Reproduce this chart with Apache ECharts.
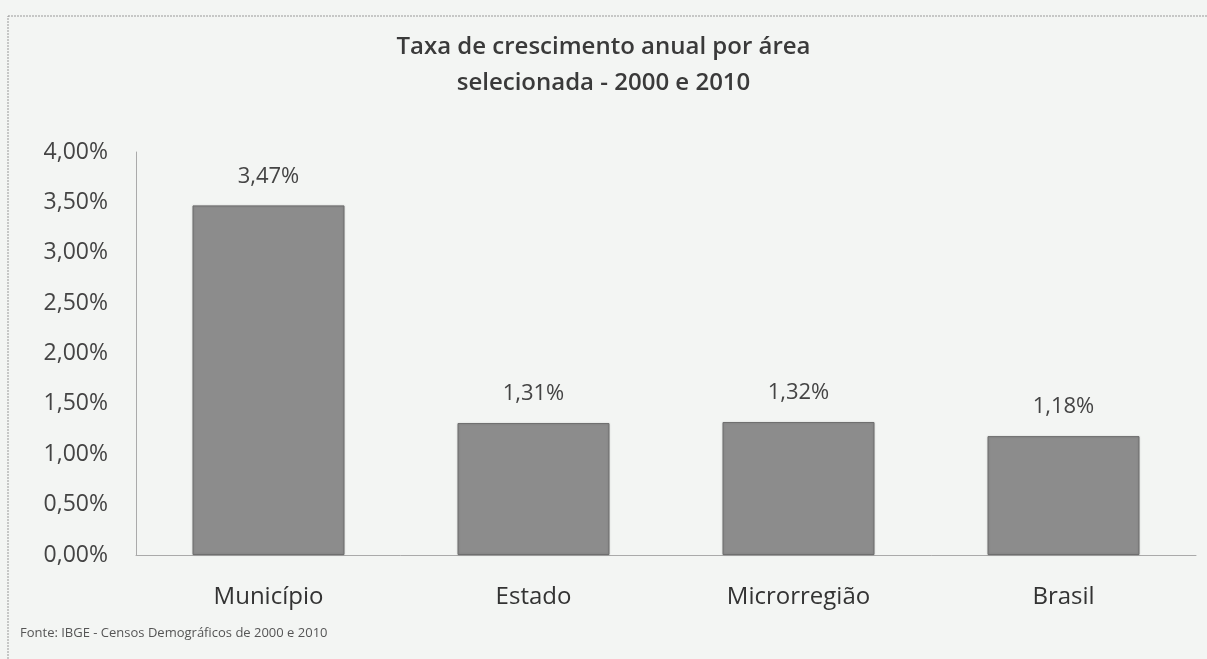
<!DOCTYPE html>
<html>
<head>
<meta charset="utf-8">
<script src="https://cdn.jsdelivr.net/npm/echarts@6/dist/echarts.min.js"></script>
<style>
  html, body { margin: 0; padding: 0; background: #f3f5f3; }
  #chart { width: 1207px; height: 659px; }
</style>
</head>
<body>
<div id="chart"></div>
<script>
// dados
const categories = ['Município', 'Estado', 'Microrregião', 'Brasil']
const taxas = [3.47, 1.31, 1.32, 1.18]
const yTicks = [0, 0.5, 1, 1.5, 2, 2.5, 3, 3.5, 4]

const fmt = v => v.toFixed(2).replace('.', ',') + '%'

let mychart = echarts.init(document.getElementById('chart'))

let option = {
  backgroundColor: '#f3f5f3',
  title: {
    text: 'Taxa de crescimento anual por área\nselecionada - 2000 e 2010',
    left: 'center',
    top: 24,
    textStyle: {
      fontFamily: 'Open Sans',
      fontSize: 24,
      fontWeight: 600,
      color: '#3a3a3a',
      lineHeight: 36
    }
  },
  grid: {
    left: 136,
    right: 11,
    top: 152,
    bottom: 104
  },
  xAxis: {
    type: 'category',
    data: categories,
    axisTick: { show: false },
    axisLine: { lineStyle: { color: '#aaa', width: 1 } },
    axisLabel: {
      fontFamily: 'Open Sans',
      fontSize: 24,
      color: '#333',
      margin: 30
    }
  },
  yAxis: {
    type: 'value',
    min: yTicks[0],
    max: yTicks[yTicks.length - 1],
    interval: 0.5,
    splitLine: { show: false },
    axisLine: { show: true, lineStyle: { color: '#aaa', width: 1 } },
    axisTick: { show: false },
    axisLabel: {
      formatter: v => fmt(v),
      fontFamily: 'Open Sans',
      fontSize: 23,
      color: '#444',
      margin: 28
    }
  },
  series: [
    {
      type: 'bar',
      data: taxas,
      barWidth: 152,
      itemStyle: {
        color: '#8c8c8c',
        borderColor: '#6f6f6f',
        borderWidth: 1,
        shadowColor: 'rgba(0,0,0,0.15)',
        shadowBlur: 2
      },
      label: {
        show: true,
        position: 'top',
        distance: 18,
        formatter: p => fmt(p.value),
        fontFamily: 'Open Sans',
        fontSize: 22,
        color: '#444'
      }
    }
  ],
  graphic: [
    {
      type: 'rect',
      shape: { x: 8, y: 16, width: 1240, height: 700 },
      style: { fill: 'none', stroke: '#999', lineWidth: 1, lineDash: [2, 1] },
      silent: true
    },
    {
      type: 'text',
      left: 20,
      top: 627,
      style: {
        text: 'Fonte: IBGE - Censos Demográficos de 2000 e 2010',
        fontFamily: 'Open Sans',
        fontSize: 13,
        fill: '#555'
      }
    }
  ]
}

mychart.setOption(option)
</script>
</body>
</html>
